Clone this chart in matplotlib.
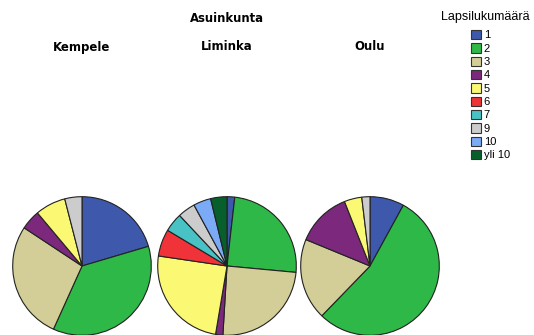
import matplotlib
matplotlib.use('Agg')
import matplotlib.pyplot as plt
from matplotlib.patches import Patch

plt.rcParams['font.family'] = ['Liberation Sans', 'DejaVu Sans']

# children count categories and SPSS style colours
categories = ['1', '2', '3', '4', '5', '6', '7', '9', '10', 'yli 10']
colors = ['#3E58AC', '#2EB848', '#D3CE97', '#7C287D', '#FBF873',
          '#EF3338', '#48C2C5', '#CCCCCC', '#7BAAF7', '#07602B']

towns = ['Kempele', 'Liminka', 'Oulu']
# percentages per town (in category order)
kempele = [20.4, 36.3, 27.5, 4.6, 7.1, 0, 0, 4.0, 0, 0]
liminka = [1.8, 24.7, 24.5, 1.7, 24.7, 6.3, 4.4, 4.1, 4.1, 3.8]
oulu = [8.0, 54.3, 19.0, 12.8, 4.1, 0, 0, 1.9, 0, 0]
values = [kempele, liminka, oulu]

W, H = 534, 335
fig = plt.figure(figsize=(W / 100, H / 100), dpi=100)

centers_x = [82, 227, 370]
center_y = 266
r = 70
for town, vals, cx in zip(towns, values, centers_x):
    ax = fig.add_axes([(cx - r) / W, (H - center_y - r) / H, 2 * r / W, 2 * r / H])
    v = [x for x in vals if x > 0]
    c = [col for x, col in zip(vals, colors) if x > 0]
    ax.pie(v, colors=c, startangle=90, counterclock=False,
           wedgeprops=dict(edgecolor='#222222', linewidth=0.8))
    ax.set_xlim(-1.01, 1.01)
    ax.set_ylim(-1.01, 1.01)
    ax.set_aspect('equal')
    ax.axis('off')
    fig.text(cx / W, 1 - 47 / H, town, ha='center', va='center',
             fontsize=8.5, fontweight='bold', family='DejaVu Sans')

fig.text(227 / W, 1 - 18 / H, 'Asuinkunta', ha='center', va='center',
         fontsize=8.4, fontweight='bold', family='DejaVu Sans')

fig.text(485 / W, 1 - 17 / H, 'Lapsilukumäärä', ha='center', va='center', fontsize=9)
handles = [Patch(facecolor=col, edgecolor='#333333', linewidth=0.8) for col in colors]
fig.legend(handles, categories, loc='upper left', bbox_to_anchor=(471 / W, 1 - 30 / H),
           frameon=False, fontsize=8, handlelength=0.9, handleheight=0.9,
           handletextpad=0.25, labelspacing=0.26, borderpad=0, borderaxespad=0)

fig.savefig('out.png', dpi=100)
